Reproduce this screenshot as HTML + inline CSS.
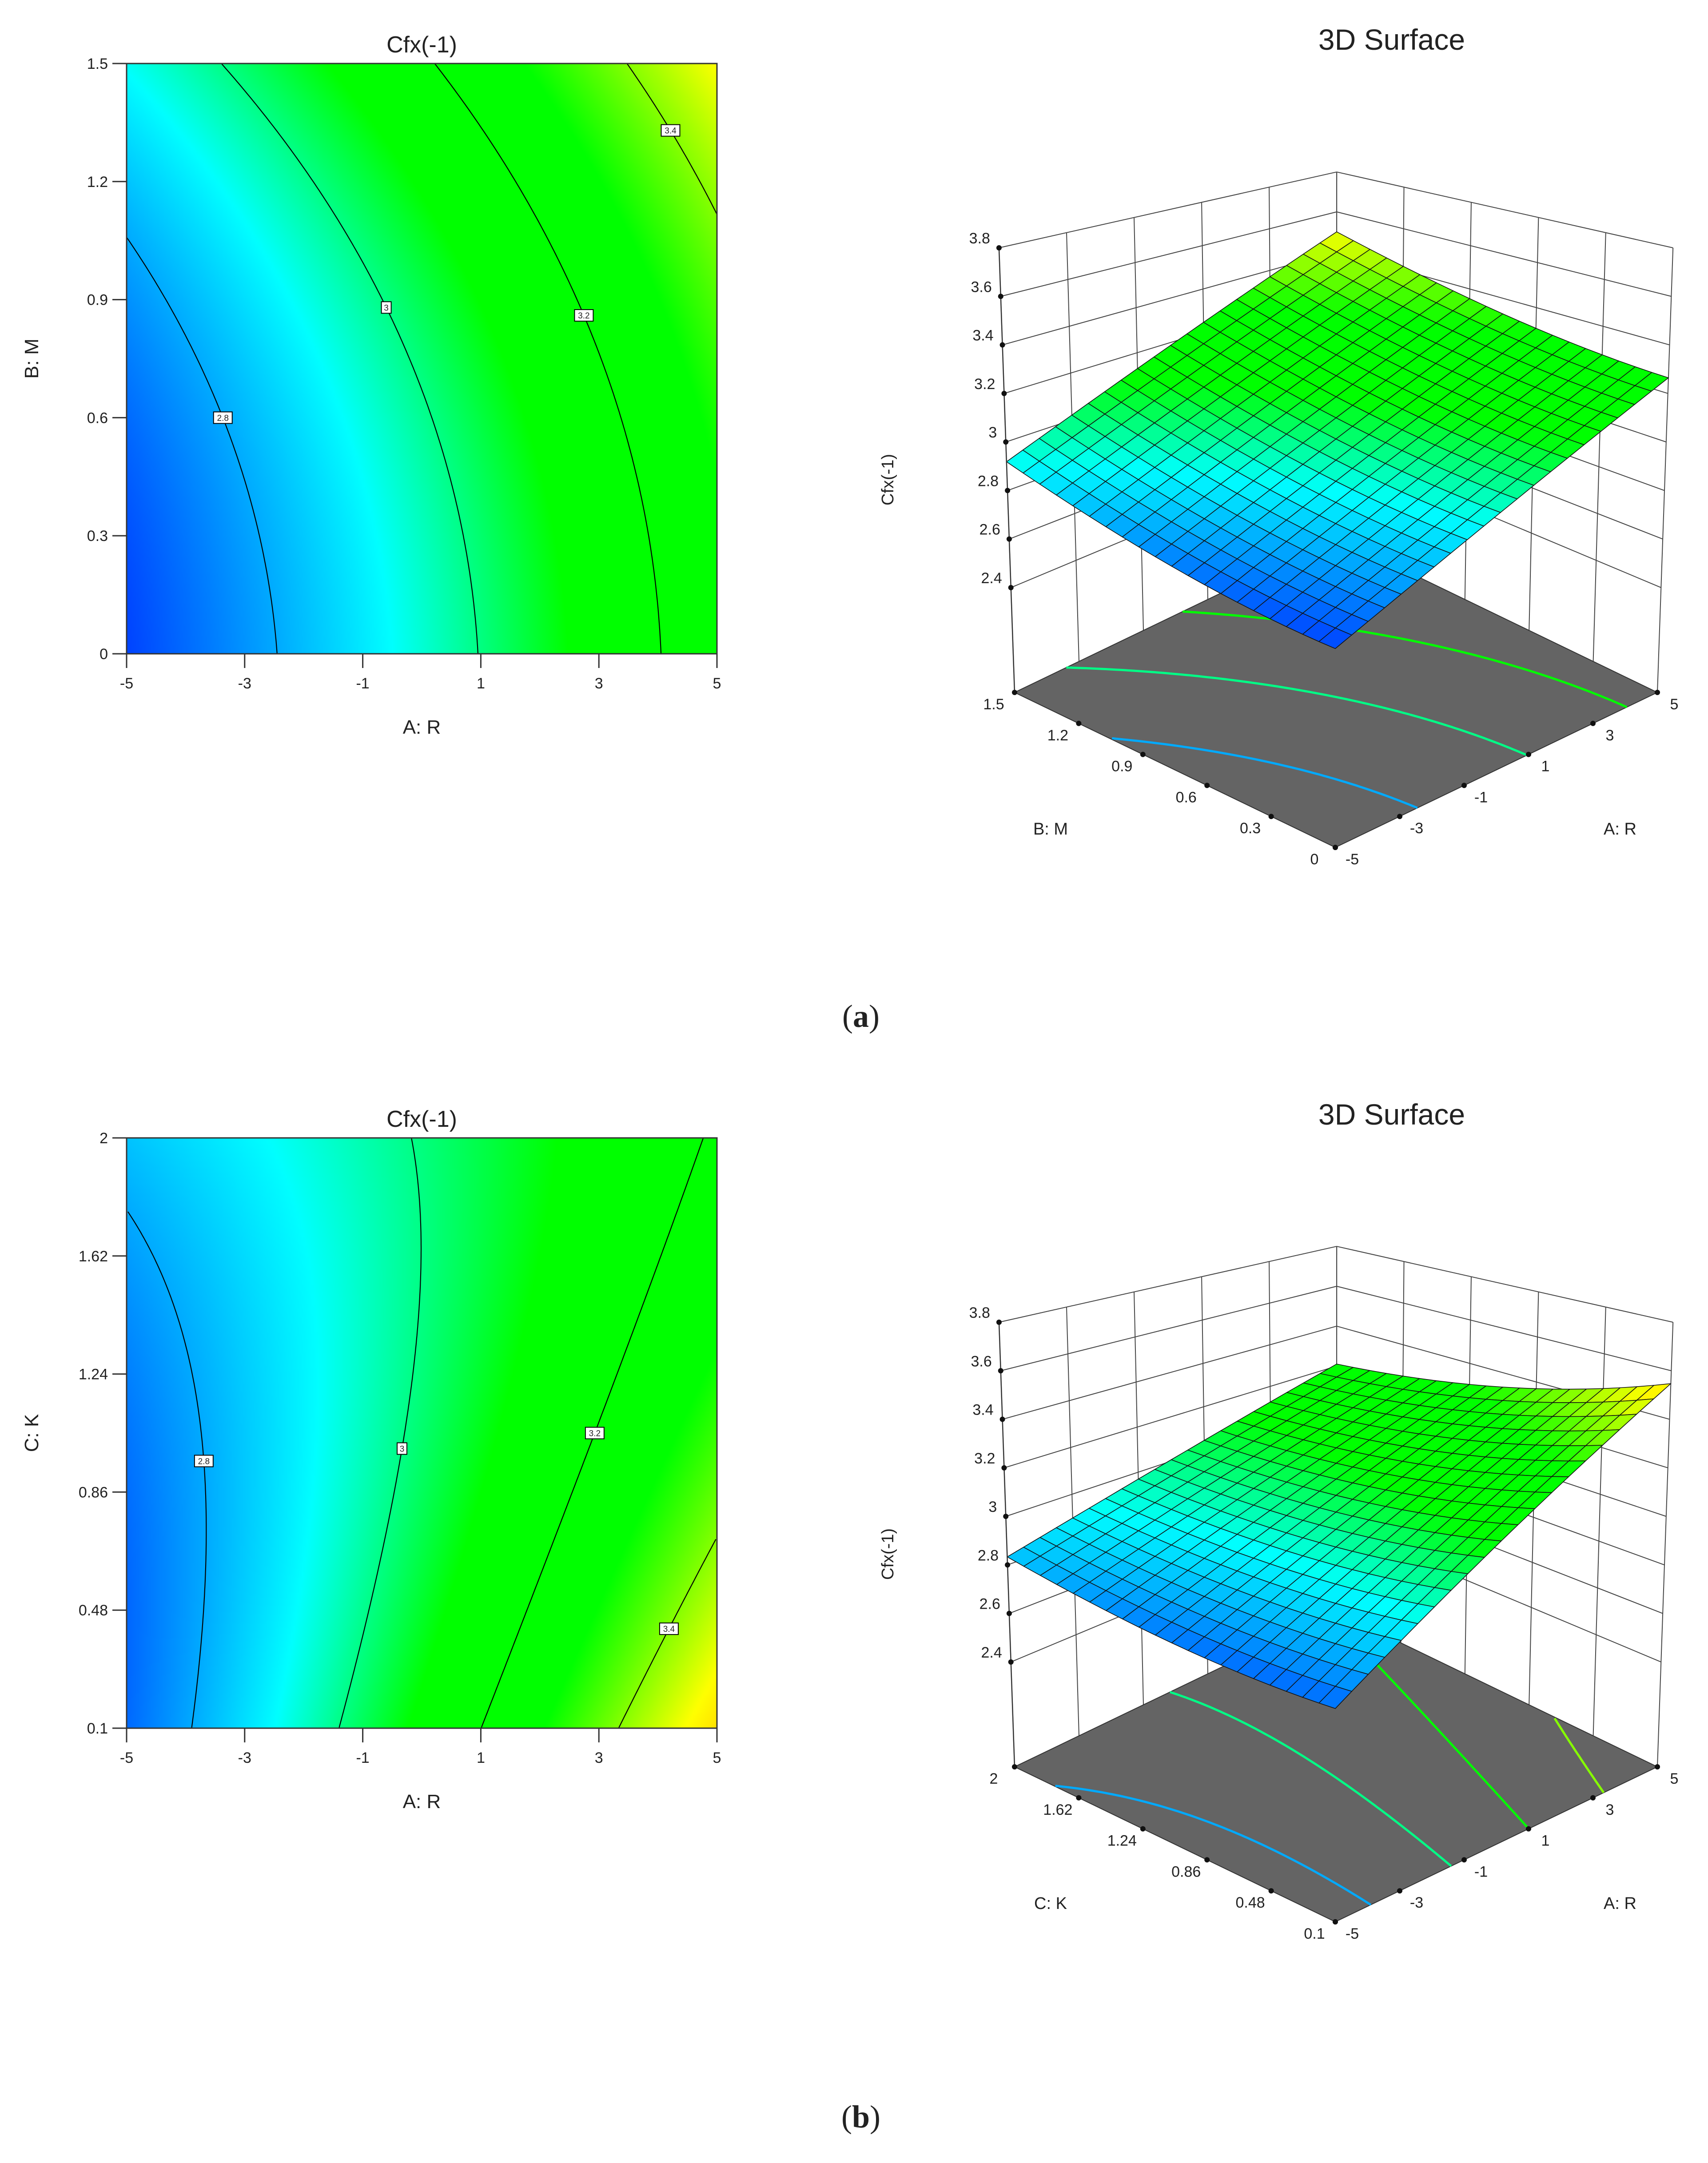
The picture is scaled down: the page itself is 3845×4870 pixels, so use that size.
<!DOCTYPE html>
<html><head><meta charset="utf-8"><style>
html,body{margin:0;padding:0;background:#fff;}
#wrap{position:relative;width:3845px;height:4870px;overflow:hidden;background:#fff;}
canvas{position:absolute;}
svg{position:absolute;left:0;top:0;}
text{font-family:"Liberation Sans","DejaVu Sans",sans-serif;fill:#222;}
</style></head><body>
<div id="wrap">
<canvas id="cvA" width="270" height="270" style="left:285px;top:143px;width:1329px;height:1329px"></canvas>
<canvas id="cvB" width="270" height="270" style="left:285px;top:2562px;width:1329px;height:1329px"></canvas>
<svg id="sv" width="3845" height="4870" viewBox="0 0 3845 4870"></svg>
</div>
<script>
// ---- data (response-surface model coefficients) ----
const modelTerms = ["1","A","W","A*W","A^2","W^2"];
const coefA = [2.942, 0.0601, 0.024, -0.0013, 0.00088, 0.093];   // Cfx vs A:R, B:M
const coefB = [3.131, 0.0857, -0.1586, -0.024, 0.0006, 0.0482];  // Cfx vs A:R, C:K
const contourLevels = [2.8, 3.0, 3.2, 3.4];
const contourLabels = ["2.8", "3", "3.2", "3.4"];
const labelPosA = [0.6, 0.88, 0.86, 1.33];
const labelPosB = [0.96, 1.0, 1.05, 0.42];
const xTicks = [-5, -3, -1, 1, 3, 5];
const yTicksA = [0, 0.3, 0.6, 0.9, 1.2, 1.5];
const yTickLabelsA = ["0", "0.3", "0.6", "0.9", "1.2", "1.5"];
const yTicksB = [0.1, 0.48, 0.86, 1.24, 1.62, 2];
const yTickLabelsB = ["0.1", "0.48", "0.86", "1.24", "1.62", "2"];
const zTicks = [2.4, 2.6, 2.8, 3.0, 3.2, 3.4, 3.6, 3.8];
const zTickLabels = ["2.4", "2.6", "2.8", "3", "3.2", "3.4", "3.6", "3.8"];

const NS = "http://www.w3.org/2000/svg";
const sv = document.getElementById('sv');
function mk(tag, attrs, parent) {
  const e = document.createElementNS(NS, tag);
  for (const k in attrs) e.setAttribute(k, attrs[k]);
  (parent || sv).appendChild(e);
  return e;
}
function model(c, A, W) { return c[0] + c[1]*A + c[2]*W + c[3]*A*W + c[4]*A*A + c[5]*W*W; }
function solveA(c, W, lev) {
  const a = c[4], b = c[1] + c[3]*W, cc = c[0] + c[2]*W + c[5]*W*W - lev;
  if (Math.abs(a) < 1e-9) return -cc / b;
  const d = b*b - 4*a*cc; if (d < 0) return NaN;
  const q = -0.5*(b + Math.sign(b)*Math.sqrt(d));
  return cc / q;
}
const stops = [[0,[0,64,255]],[0.3,[0,255,255]],[0.52,[0,255,0]],[0.75,[0,255,0]],[1,[255,255,0]],[1.2,[255,150,0]]];
function colRGB(v) {
  let t = (v - 2.66) / (3.5 - 2.66);
  if (t <= 0) return stops[0][1];
  for (let i = 1; i < stops.length; i++) {
    if (t <= stops[i][0]) {
      const p = (t - stops[i-1][0]) / (stops[i][0] - stops[i-1][0]);
      return stops[i-1][1].map((x, k) => Math.round(x + (stops[i][1][k] - x)*p));
    }
  }
  return stops[stops.length-1][1];
}
function col(v) { const c = colRGB(v); return `rgb(${c[0]},${c[1]},${c[2]})`; }

// ---------------- 2D contour plots ----------------
function contour2D(cfg) {
  const X0 = 285, X1 = 1614, Y0 = cfg.top, Y1 = cfg.top + 1329, CX = (X0 + X1) / 2;
  const sx = A => X0 + (A + 5) / 10 * (X1 - X0);
  const sy = W => Y1 - (W - cfg.wmin) / (cfg.wmax - cfg.wmin) * (Y1 - Y0);
  const cv = document.getElementById(cfg.canvas), ctx = cv.getContext('2d');
  const img = ctx.createImageData(270, 270);
  for (let j = 0; j < 270; j++) for (let i = 0; i < 270; i++) {
    const A = -5 + (i + 0.5) / 270 * 10, W = cfg.wmax - (j + 0.5) / 270 * (cfg.wmax - cfg.wmin);
    const c = colRGB(model(cfg.coef, A, W)), o = (j*270 + i)*4;
    img.data[o] = c[0]; img.data[o+1] = c[1]; img.data[o+2] = c[2]; img.data[o+3] = 255;
  }
  ctx.putImageData(img, 0, 0);
  const g = mk('g', { });
  contourLevels.forEach((lev, li) => {
    let pts = [];
    for (let k = 0; k <= 200; k++) {
      const W = cfg.wmin + k / 200 * (cfg.wmax - cfg.wmin);
      const A = solveA(cfg.coef, W, lev);
      if (A >= -5 && A <= 5) pts.push(sx(A).toFixed(1) + ',' + sy(W).toFixed(1));
    }
    const pl = mk('polyline', {points: pts.join(' '), fill: 'none', stroke: '#000', 'stroke-width': 2.2}, g);
    
    
    const W = cfg.labelPos[li], A = solveA(cfg.coef, W, lev);
    const lx = sx(A), ly = sy(W), bw = contourLabels[li].length > 1 ? 42 : 22;
    const lg = mk('g', {}, g);
    
    
    mk('rect', {x: lx - bw/2, y: ly - 13, width: bw, height: 26, fill: '#fff', stroke: '#000', 'stroke-width': 2}, lg);
    mk('text', {x: lx, y: ly + 7, 'font-size': 19, 'text-anchor': 'middle'}, lg).textContent = contourLabels[li];
  });
  mk('rect', {x: X0, y: Y0, width: X1 - X0, height: Y1 - Y0, fill: 'none', stroke: '#333', 'stroke-width': 3,  }, g);
  const ax = mk('g', { }, g);
  xTicks.forEach(t => {
    mk('line', {x1: sx(t), y1: Y1, x2: sx(t), y2: Y1 + 32, stroke: '#333', 'stroke-width': 3}, ax);
    mk('text', {x: sx(t), y: Y1 + 78, 'font-size': 34, 'text-anchor': 'middle'}, ax).textContent = String(t);
  });
  const ay = mk('g', { }, g);
  cfg.yTicks.forEach((t, i) => {
    mk('line', {x1: X0 - 32, y1: sy(t), x2: X0, y2: sy(t), stroke: '#333', 'stroke-width': 3}, ay);
    mk('text', {x: X0 - 42, y: sy(t) + 12, 'font-size': 34, 'text-anchor': 'end'}, ay).textContent = cfg.yLabels[i];
  });
  mk('text', {x: CX, y: Y0 - 25, 'font-size': 52, 'text-anchor': 'middle',  }, g).textContent = 'Cfx(-1)';
  mk('text', {x: CX, y: Y1 + 180, 'font-size': 44, 'text-anchor': 'middle',  }, g).textContent = 'A: R';
  mk('text', {x: 0, y: 0, 'font-size': 44, 'text-anchor': 'middle', transform: `translate(86,${(Y0+Y1)/2}) rotate(-90)`,  }, g).textContent = cfg.yTitle;
}
contour2D({name: 'contour-plot-a', canvas: 'cvA', top: 143, coef: coefA, wmin: 0, wmax: 1.5, yTicks: yTicksA, yLabels: yTickLabelsA, labelPos: labelPosA, yTitle: 'B: M'});
contour2D({name: 'contour-plot-b', canvas: 'cvB', top: 2562, coef: coefB, wmin: 0.1, wmax: 2, yTicks: yTicksB, yLabels: yTickLabelsB, labelPos: labelPosB, yTitle: 'C: K'});

// ---------------- 3D surfaces ----------------
function surface3D(cfg) {
  const oy = cfg.oy, zf = 1.968, CXF = 3006;
  const FR = [3006, 1908 + oy], RT = [3731, 1559 + oy], LF = [2284, 1559 + oy];
  function P(u, v, z) {
    const fx = FR[0] + u*(RT[0]-FR[0]) + v*(LF[0]-FR[0]);
    const fy = FR[1] + u*(RT[1]-FR[1]) + v*(LF[1]-FR[1]);
    const h = z - zf, s = 1.178 - 0.356*(u + v)/2;
    return [fx + (fx - CXF)*0.0265*h, fy - h*546.4*s];
  }
  const wf = W => (W - cfg.wmin) / (cfg.wmax - cfg.wmin);
  const uf = A => (A + 5) / 10;
  const g = mk('g', { });
  const pt = p => p[0].toFixed(1) + ',' + p[1].toFixed(1);
  const wall = mk('g', { }, g);
  const ln = (a, b, w) => mk('line', {x1: a[0], y1: a[1], x2: b[0], y2: b[1], stroke: '#444', 'stroke-width': w || 2}, wall);
  for (let k = 0; k <= 5; k++) {
    const f = k / 5;
    ln(P(f, 1, zf), P(f, 1, 3.8));
    ln(P(1, f, zf), P(1, f, 3.8));
  }
  zTicks.forEach(z => { ln(P(0, 1, z), P(1, 1, z)); ln(P(1, 1, z), P(1, 0, z)); });
  mk('polygon', {points: [P(0,0,zf), P(1,0,zf), P(1,1,zf), P(0,1,zf)].map(pt).join(' '), fill: '#646464', stroke: '#333', 'stroke-width': 2,  }, g);
  contourLevels.forEach((lev, li) => {
    let pts = [];
    for (let k = 0; k <= 120; k++) {
      const W = cfg.wmin + k / 120 * (cfg.wmax - cfg.wmin);
      const A = solveA(cfg.coef, W, lev);
      if (A >= -5 && A <= 5) pts.push(pt(P(uf(A), wf(W), zf)));
    }
    const pl = mk('polyline', {points: pts.join(' '), fill: 'none', stroke: col(lev), 'stroke-width': 5}, g);
    
    
  });
  const N = 20, quads = [];
  for (let i = 0; i < N; i++) for (let j = 0; j < N; j++) quads.push([i, j]);
  quads.sort((a, b) => (b[0] + b[1]) - (a[0] + a[1]));
  const sg = mk('g', { }, g);
  const val = (i, j) => model(cfg.coef, -5 + 10*i/N, cfg.wmin + (cfg.wmax - cfg.wmin)*j/N);
  quads.forEach(([i, j]) => {
    const c = [[i,j],[i+1,j],[i+1,j+1],[i,j+1]];
    const vs = c.map(q => val(q[0], q[1]));
    const avg = vs.reduce((s, x) => s + x, 0) / 4;
    const poly = mk('polygon', {points: c.map((q, k) => pt(P(q[0]/N, q[1]/N, vs[k]))).join(' '), fill: col(avg), stroke: '#111', 'stroke-width': 1.6, 'stroke-linejoin': 'round'}, sg);
    
    
  });
  const za = mk('g', { }, g);
  const e0 = P(0, 1, zf), e1 = P(0, 1, 3.8);
  mk('line', {x1: e0[0], y1: e0[1], x2: e1[0], y2: e1[1], stroke: '#333', 'stroke-width': 2.5}, za);
  zTicks.forEach((z, i) => {
    const p = P(0, 1, z);
    mk('circle', {cx: p[0], cy: p[1], r: 6, fill: '#111'}, za);
    mk('text', {x: p[0] - 20, y: p[1] - 10, 'font-size': 34, 'text-anchor': 'end'}, za).textContent = zTickLabels[i];
  });
  const wa = mk('g', { }, g);
  cfg.yTicks.forEach((t, i) => {
    const p = P(0, wf(t), zf);
    mk('circle', {cx: p[0], cy: p[1], r: 6, fill: '#111'}, wa);
    mk('text', {x: p[0] - 47, y: p[1] + 38, 'font-size': 34, 'text-anchor': 'middle'}, wa).textContent = cfg.yLabels[i];
  });
  const aa = mk('g', { }, g);
  xTicks.forEach(t => {
    const p = P(uf(t), 0, zf);
    mk('circle', {cx: p[0], cy: p[1], r: 6, fill: '#111'}, aa);
    mk('text', {x: p[0] + 38, y: p[1] + 38, 'font-size': 34, 'text-anchor': 'middle'}, aa).textContent = String(t);
  });
  mk('text', {x: 2365, y: 1879 + oy, 'font-size': 38, 'text-anchor': 'middle',  }, g).textContent = cfg.yTitle;
  mk('text', {x: 3647, y: 1879 + oy, 'font-size': 38, 'text-anchor': 'middle',  }, g).textContent = 'A: R';
  mk('text', {x: 0, y: 0, 'font-size': 38, 'text-anchor': 'middle', transform: `translate(2011,${1080 + oy}) rotate(-90)`,  }, g).textContent = 'Cfx(-1)';
  mk('text', {x: 3133, y: 112 + cfg.ty, 'font-size': 66, 'text-anchor': 'middle',  }, g).textContent = '3D Surface';
}
surface3D({name: 'surface-plot-a', oy: 0, ty: 0, coef: coefA, wmin: 0, wmax: 1.5, yTicks: yTicksA, yLabels: yTickLabelsA, yTitle: 'B: M'});
surface3D({name: 'surface-plot-b', oy: 2419, ty: 2420, coef: coefB, wmin: 0.1, wmax: 2, yTicks: yTicksB, yLabels: yTickLabelsB, yTitle: 'C: K'});

[['a', 2312, 'panel-label-a'], ['b', 4790, 'panel-label-b']].forEach(r => {
  const t = mk('text', {x: 1938, y: r[1], 'font-size': 72, 'text-anchor': 'middle', style: 'font-family:"Liberation Serif",serif'});
  
  
  t.appendChild(document.createTextNode('('));
  const b = mk('tspan', {'font-weight': 'bold'}, t); b.textContent = r[0];
  t.appendChild(document.createTextNode(')'));
});
</script>
</body></html>
